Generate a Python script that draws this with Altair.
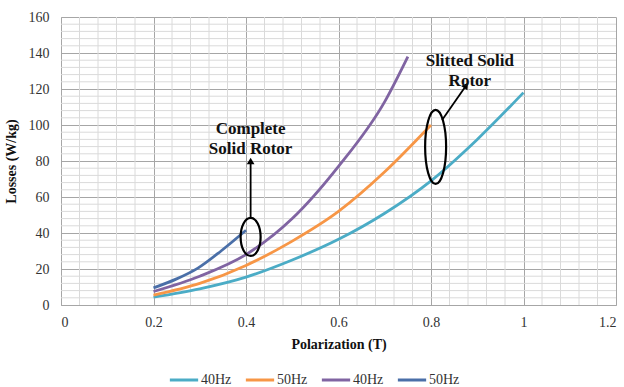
import altair as alt
import pandas as pd

# ---- data ----
s40_x = [0.2, 0.3, 0.4, 0.5, 0.6, 0.7, 0.8, 0.9, 1.0]
s40_y = [4.4, 9.0, 15.5, 25.0, 36.5, 51.0, 69.0, 92.0, 118.0]
s50_x = [0.2, 0.3, 0.4, 0.5, 0.6, 0.7, 0.8]
s50_y = [5.5, 12.0, 22.0, 35.5, 52.0, 74.0, 100.0]
c40_x = [0.2, 0.3, 0.4, 0.5, 0.6, 0.7, 0.75]
c40_y = [7.5, 16.0, 28.0, 48.0, 77.0, 113.0, 138.0]
c50_x = [0.2, 0.25, 0.296, 0.346, 0.4]
c50_y = [9.5, 14.5, 20.5, 30.0, 41.5]

series_names = ["40Hz|S", "50Hz|S", "40Hz|C", "50Hz|C"]
series_colors = ["#4BACC6", "#F79646", "#8064A2", "#4A6FA8"]

x_ticks = [0, 0.2, 0.4, 0.6, 0.8, 1.0, 1.2]
y_ticks = [0, 20, 40, 60, 80, 100, 120, 140, 160]
x_minor = [round(i * 0.04, 2) for i in range(1, 30) if i % 5 != 0]
y_minor = [i * 4 for i in range(1, 40) if i % 5 != 0]

# annotations (data coordinates)
ann_text = ["Complete\nSolid Rotor", "Slitted Solid\nRotor"]
ann_text_x = [0.41, 0.884]
ann_text_y = [98.0, 135.6]
ell_x = [0.41, 0.81]
ell_y = [37.8, 87.8]
arrow_x1 = [0.41, 0.824]
arrow_y1 = [48.3, 102.8]
arrow_x2 = [0.41, 0.876]
arrow_y2 = [80.0, 122.0]
arrow_angle = [0, 35]

rows = []
for name, xs, ys in zip(series_names, [s40_x, s50_x, c40_x, c50_x],
                        [s40_y, s50_y, c40_y, c50_y]):
    for i, (xv, yv) in enumerate(zip(xs, ys)):
        rows.append({"series": name, "x": xv, "y": yv, "order": i})
df = pd.DataFrame(rows)

FONT = "'Liberation Serif', 'Times New Roman', serif"
xscale = alt.Scale(domain=[0, 1.2], nice=False)
yscale = alt.Scale(domain=[0, 160], nice=False)
xaxis = alt.Axis(values=x_ticks, title="Polarization (T)", grid=True,
                 gridColor="#A6A6A6", gridWidth=1, ticks=False,
                 domainColor="#A6A6A6", labelPadding=10,
                 labelExpr="format(datum.value, '~g')", titlePadding=8)
yaxis = alt.Axis(values=y_ticks, title="Losses (W/kg)", grid=True,
                 gridColor="#A6A6A6", gridWidth=1, ticks=False,
                 domainColor="#A6A6A6", labelPadding=12, titlePadding=10)


def X(field):
    return alt.X(field, scale=xscale, axis=xaxis)


def Y(field):
    return alt.Y(field, scale=yscale, axis=yaxis)


def ellipse_path(rx, ry):
    k = 0.5523
    return (f"M0,{-ry} C{k*rx},{-ry} {rx},{-k*ry} {rx},0 "
            f"C{rx},{k*ry} {k*rx},{ry} 0,{ry} "
            f"C{-k*rx},{ry} {-rx},{k*ry} {-rx},0 "
            f"C{-rx},{-k*ry} {-k*rx},{-ry} 0,{-ry} Z")


minor_x = alt.Chart(pd.DataFrame({"x": x_minor})).mark_rule(
    color="#DADADA", strokeWidth=1).encode(x=X("x:Q"))
minor_y = alt.Chart(pd.DataFrame({"y": y_minor})).mark_rule(
    color="#DADADA", strokeWidth=1).encode(y=Y("y:Q"))

lines = alt.Chart(df).mark_line(strokeWidth=2.8, interpolate="monotone").encode(
    x=X("x:Q"),
    y=Y("y:Q"),
    color=alt.Color("series:N",
                    scale=alt.Scale(domain=series_names, range=series_colors),
                    legend=alt.Legend(title=None, orient="none", direction="horizontal",
                                      legendX=107, legendY=347,
                                      symbolType="stroke", symbolStrokeWidth=3,
                                      symbolSize=800, columnPadding=7,
                                      labelExpr="split(datum.label, '|')[0]",
                                      labelFont=FONT, labelFontSize=14,
                                      labelColor="#333333", labelOffset=1)),
    order="order:Q",
)

ann_df = pd.DataFrame({"t": ann_text, "x": ann_text_x, "y": ann_text_y})
texts = alt.Chart(ann_df).mark_text(
    font=FONT, fontSize=17, fontWeight="bold", lineBreak="\n", lineHeight=20,
    align="center", baseline="middle", color="#111111"
).encode(x=X("x:Q"), y=Y("y:Q"), text="t:N")

ell1 = alt.Chart(pd.DataFrame({"x": ell_x[:1], "y": ell_y[:1]})).mark_point(
    shape=ellipse_path(20 / 38, 1), size=38 * 38, filled=False,
    color="black", strokeWidth=2.2, opacity=1
).encode(x=X("x:Q"), y=Y("y:Q"))
ell2 = alt.Chart(pd.DataFrame({"x": ell_x[1:], "y": ell_y[1:]})).mark_point(
    shape=ellipse_path(21 / 74, 1), size=74 * 74, filled=False,
    color="black", strokeWidth=2.2, opacity=1
).encode(x=X("x:Q"), y=Y("y:Q"))

arr_df = pd.DataFrame({"x1": arrow_x1, "y1": arrow_y1, "x2": arrow_x2,
                       "y2": arrow_y2, "a": arrow_angle})
shafts = alt.Chart(arr_df).mark_rule(color="black", strokeWidth=1.8).encode(
    x=X("x1:Q"), y=Y("y1:Q"), x2="x2:Q", y2="y2:Q")
heads = alt.Chart(arr_df).mark_point(
    shape="triangle-up", filled=True, color="black", size=60, opacity=1
).encode(x=X("x2:Q"), y=Y("y2:Q"), angle=alt.Angle("a:Q", scale=None))

chart = alt.layer(minor_x, minor_y, lines, shafts, heads, ell1, ell2, texts).properties(
    width=555, height=288,
    autosize=alt.AutoSizeParams(type="none"),
    padding={"left": 61, "top": 17, "right": 8, "bottom": 82},
    background="white",
).configure_view(stroke=None).configure_axis(
    labelFont=FONT, labelFontSize=14, labelColor="#333333",
    titleFont=FONT, titleFontSize=14, titleFontWeight="bold", titleColor="#111111",
)

chart.save("out.html", embed_options={"renderer": "svg", "actions": False})
